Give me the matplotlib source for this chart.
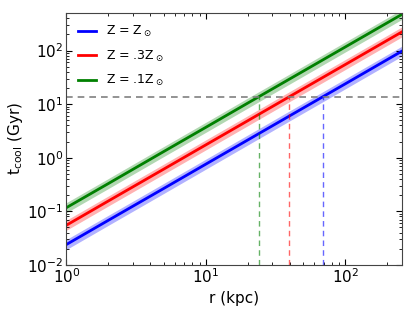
import matplotlib
matplotlib.use('Agg')
import matplotlib.pyplot as plt
import numpy as np

# radii (kpc) and cooling times (Gyr)
r = [1, 2, 5, 10, 20, 50, 100, 255]
t_solar = [0.024, 0.068, 0.268, 0.76, 2.15, 8.5, 24.0, 98.0]
t_03 = [0.055, 0.156, 0.615, 1.74, 4.92, 19.5, 55.0, 224.0]
t_01 = [0.117, 0.33, 1.31, 3.7, 10.5, 41.4, 117.0, 476.0]
band = 1.24  # multiplicative half-width of shaded bands

labels = [r'Z = Z$_\odot$', r'Z = .3Z$_\odot$', r'Z = .1Z$_\odot$']
colors = ['b', 'r', 'g']
t_hubble = 13.7
r_cross = [68.8, 39.6, 23.9]

plt.rcParams['mathtext.fontset'] = 'dejavusans'
fig = plt.figure(figsize=(4.15, 3.12), dpi=100)
ax = fig.add_axes([0.16, 0.151, 0.809, 0.807])

for t, c, lab in zip([t_solar, t_03, t_01], colors, labels):
    t = np.array(t)
    ax.fill_between(r, t / band, t * band, color=c, alpha=0.3, lw=0)
    ax.plot(r, t, color=c, lw=2, label=lab)

ax.axhline(t_hubble, color='gray', ls=(0, (4, 3)), lw=1.2)
for rc, c in zip(r_cross, colors):
    ax.plot([rc, rc], [0.01, t_hubble], color=c, ls=(0, (4, 3)), lw=1, alpha=0.6)

ax.set_xscale('log')
ax.set_yscale('log')
ax.set_xlim(1, 255)
ax.set_ylim(0.01, 500)
ax.tick_params(which='both', direction='in', top=True, right=True, labelsize=11, pad=2)
ax.tick_params(which='major', length=4)
ax.tick_params(which='minor', length=2)
for s in ax.spines.values():
    s.set_color('#444444')
ax.set_xlabel('r (kpc)', fontsize=11, labelpad=3)
ax.set_ylabel(r't$_{\rm cool}$ (Gyr)', fontsize=11, labelpad=2)
ax.legend(loc='upper left', frameon=False, fontsize=9, handlelength=1.5,
          labelspacing=0.75)

fig.savefig('out.png', dpi=100)
